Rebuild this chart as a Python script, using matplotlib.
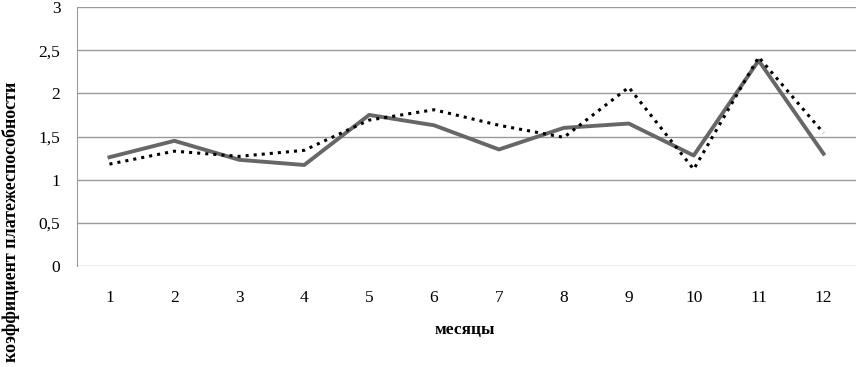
import numpy as np
import matplotlib.pyplot as plt
from matplotlib.ticker import FuncFormatter

plt.rcParams['font.family'] = ['Liberation Serif', 'DejaVu Serif']

# data
months = [1, 2, 3, 4, 5, 6, 7, 8, 9, 10, 11, 12]
solid_vals = [1.26, 1.45, 1.23, 1.17, 1.75, 1.63, 1.35, 1.60, 1.65, 1.28, 2.38, 1.30]
dotted_vals = [1.18, 1.33, 1.27, 1.34, 1.69, 1.81, 1.63, 1.49, 2.07, 1.12, 2.42, 1.54]
yticks = [0, 0.5, 1, 1.5, 2, 2.5, 3]

fig = plt.figure(figsize=(8.56, 3.67), dpi=100)
ax = fig.add_axes([77/856, 1 - 266/367, 779/856, 259/367])

x = np.arange(len(months))
ax.plot(x, solid_vals, '-', color='#676767', linewidth=2.8, zorder=3)
ax.plot(x, dotted_vals, ':', color='black', linewidth=2.2, zorder=4)

ax.set_xlim(-0.5, len(months) - 0.5)
ax.set_ylim(0, 3)
ax.set_yticks(yticks)
ax.yaxis.set_major_formatter(FuncFormatter(lambda v, p: ('%g' % v).replace('.', ',')))
ax.set_xticks(x)
ax.set_xticklabels([str(m) for m in months])
ax.tick_params(axis='both', length=0, labelsize=12.5)
ax.tick_params(axis='y', pad=12)
ax.tick_params(axis='x', pad=17)
ax.grid(axis='y', color='#9a9a9a', linewidth=1)
ax.set_axisbelow(True)
for s in ['top', 'right', 'bottom']:
    ax.spines[s].set_visible(False)
ax.spines['left'].set_color('#9a9a9a')

fig.text(465/856, 1 - 330/367, 'месяцы', ha='center', va='center',
         fontsize=12.5, fontweight='bold')
fig.text(11/856, 1 - 222/367, 'коэффициент платежеспособности', ha='center',
         va='center', rotation=90, fontsize=13, fontweight='bold')

fig.savefig('out.png', dpi=100)
